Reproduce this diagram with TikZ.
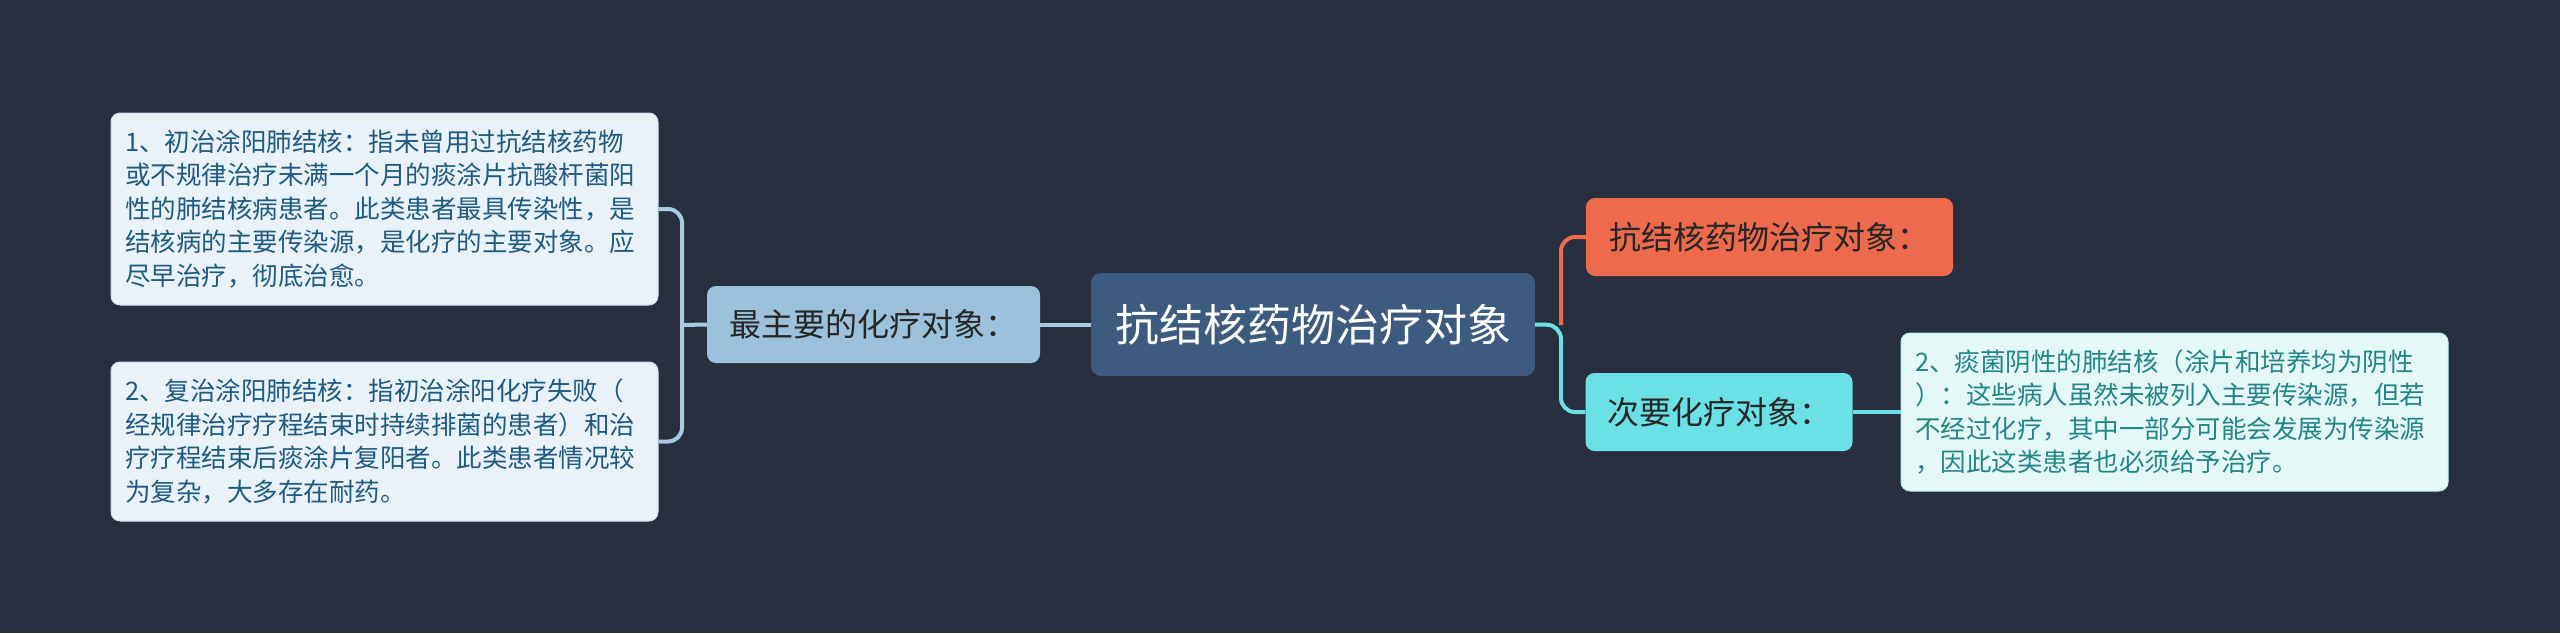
\documentclass[tikz,border=0pt]{standalone}
\usepackage{fontspec}
\newfontfamily\cjk{Noto Sans CJK SC}
\definecolor{bg}{HTML}{282F3E}
\definecolor{leaffill}{HTML}{EAF2F9}
\definecolor{leaftext}{HTML}{1F5B80}
\definecolor{leafline}{HTML}{A9CBE2}
\definecolor{midfill}{HTML}{9BC2DA}
\definecolor{centerfill}{HTML}{3D5A7F}
\definecolor{orangefill}{HTML}{EE6A4C}
\definecolor{cyanfill}{HTML}{6BE0E5}
\definecolor{rleaffill}{HTML}{E5F8F8}
\definecolor{rleaftext}{HTML}{238585}
\definecolor{darktext}{HTML}{262626}
\tikzset{
  leafbox/.style={rectangle, rounded corners=9pt, fill=leaffill, draw=leafline!60, line width=1pt,
    text=leaftext, align=left, inner xsep=14pt, inner ysep=0pt,
    font=\cjk\fontsize{25.5}{33.5}\selectfont},
  rleafbox/.style={leafbox, fill=rleaffill, text=rleaftext, draw=cyanfill!50},
  midbox/.style={rectangle, rounded corners=9pt, text=darktext, inner sep=0pt,
    font=\cjk\fontsize{32}{38}\selectfont},
  centerbox/.style={rectangle, rounded corners=10pt, fill=centerfill, text=white, inner sep=0pt,
    font=\cjk\fontsize{44}{50}\selectfont},
  blueconn/.style={draw=leafline, line width=4pt, rounded corners=14pt},
  orangeconn/.style={draw=orangefill, line width=4pt, rounded corners=14pt},
  cyanconn/.style={draw=cyanfill, line width=4pt, rounded corners=14pt}
}
\begin{document}
\begin{tikzpicture}[x=1pt,y=-1pt]
\useasboundingbox (0,0) rectangle (2560,633);
\fill[bg] (0,0) rectangle (2560,633);

\node[leafbox, text width=519pt, minimum width=547pt, minimum height=192pt] (l1) at (384.5,209)
  {1、初治涂阳肺结核：指未曾用过抗结核药物\\或不规律治疗未满一个月的痰涂片抗酸杆菌阳\\性的肺结核病患者。此类患者最具传染性，是\\结核病的主要传染源，是化疗的主要对象。应\\尽早治疗，彻底治愈。};
\node[leafbox, text width=519pt, minimum width=547pt, minimum height=159pt] (l2) at (384.5,441.5)
  {2、复治涂阳肺结核：指初治涂阳化疗失败（\\经规律治疗疗程结束时持续排菌的患者）和治\\疗疗程结束后痰涂片复阳者。此类患者情况较\\为复杂，大多存在耐药。};
\node[midbox, fill=midfill, minimum width=333pt, minimum height=77pt] (lm) at (873.5,324.5) {最主要的化疗对象：};
\node[centerbox, minimum width=444pt, minimum height=103pt] (c) at (1313,324.5) {抗结核药物治疗对象};
\node[midbox, fill=orangefill, minimum width=367pt, minimum height=78pt] (rt) at (1769.5,237) {抗结核药物治疗对象：};
\node[midbox, fill=cyanfill, minimum width=267pt, minimum height=78pt] (rm) at (1719,412) {次要化疗对象：};
\node[rleafbox, text width=519pt, minimum width=545pt, minimum height=158pt] (rl) at (2174.5,412)
  {2、痰菌阴性的肺结核（涂片和培养均为阴性\\）：这些病人虽然未被列入主要传染源，但若\\不经过化疗，其中一部分可能会发展为传染源\\，因此这类患者也必须给予治疗。};

\coordinate (lj) at (682,325);
\coordinate (rj) at (1561,325);

\draw[blueconn] (c.west) -- (lm.east);
\draw[blueconn] (lm.west) -- (lj);
\draw[blueconn] (l1.east) -- (lj |- l1.east) -- (lj |- l2.east) -- (l2.east);
\draw[orangeconn] (rj) -- (rj |- rt.west) -- (rt.west);
\draw[cyanconn] (c.east) -- (rj) -- (rj |- rm.west) -- (rm.west);
\draw[cyanconn] (rm.east) -- (rl.west);
\end{tikzpicture}
\end{document}
